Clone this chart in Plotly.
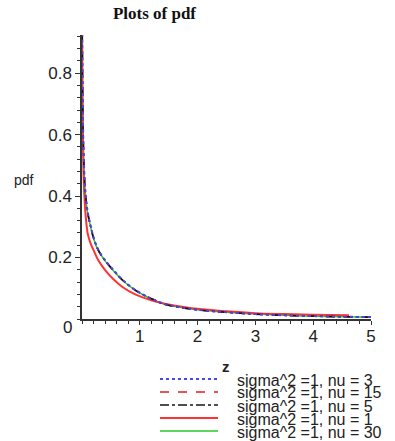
import plotly.graph_objects as go

# Sample points of the density curves (z, pdf)
z = [0.003, 0.006, 0.01, 0.02, 0.03, 0.05, 0.07, 0.1, 0.15, 0.2, 0.28, 0.4,
     0.54, 0.7, 0.92, 1.2, 1.43, 1.7, 2.0, 2.5, 3.0, 3.5, 4.0, 4.5, 5.0]

pdf_nu3 = [0.93, 0.85, 0.75, 0.61, 0.53, 0.44, 0.392, 0.347, 0.303, 0.266, 0.226, 0.191,
           0.160, 0.128, 0.095, 0.066, 0.049, 0.038, 0.030, 0.022, 0.016, 0.012, 0.0095, 0.0075, 0.0062]
pdf_nu15 = [0.93, 0.84, 0.74, 0.60, 0.52, 0.43, 0.386, 0.343, 0.300, 0.263, 0.224, 0.189,
            0.158, 0.127, 0.094, 0.066, 0.048, 0.038, 0.030, 0.022, 0.016, 0.012, 0.0092, 0.0072, 0.0060]
pdf_nu5 = [0.93, 0.84, 0.74, 0.60, 0.52, 0.43, 0.388, 0.345, 0.301, 0.264, 0.225, 0.190,
           0.159, 0.127, 0.094, 0.066, 0.048, 0.038, 0.030, 0.022, 0.016, 0.012, 0.0093, 0.0073, 0.0061]
pdf_nu30 = [0.93, 0.84, 0.74, 0.60, 0.52, 0.43, 0.386, 0.342, 0.299, 0.262, 0.223, 0.189,
            0.158, 0.126, 0.094, 0.065, 0.048, 0.038, 0.030, 0.022, 0.016, 0.012, 0.0092, 0.0072, 0.0060]

z_nu1 = [0.003, 0.006, 0.01, 0.02, 0.03, 0.05, 0.07, 0.1, 0.15, 0.2, 0.28, 0.4,
         0.54, 0.7, 0.92, 1.2, 1.43, 1.7, 2.0, 2.5, 3.0, 3.5, 4.0, 4.62]
pdf_nu1 = [0.93, 0.80, 0.68, 0.53, 0.45, 0.37, 0.322, 0.277, 0.245, 0.224, 0.192, 0.159,
           0.130, 0.104, 0.080, 0.061, 0.050, 0.041, 0.033, 0.025, 0.019, 0.016, 0.014, 0.012]

labels = ["sigma^2 =1, nu = 3", "sigma^2 =1, nu = 15", "sigma^2 =1, nu = 5",
          "sigma^2 =1, nu = 1", "sigma^2 =1, nu = 30"]
x_ticks = [1, 2, 3, 4, 5]
y_ticks = [0.2, 0.4, 0.6, 0.8]

series = [
    (z, pdf_nu3, "rgb(70,70,235)", "dot", 2),
    (z, pdf_nu15, "rgb(220,30,30)", "dash", 1.6),
    (z, pdf_nu5, "rgb(20,20,20)", "dashdot", 1.6),
    (z_nu1, pdf_nu1, "rgb(255,50,50)", "solid", 2),
    (z, pdf_nu30, "rgb(40,200,40)", "solid", 1.5),
]
# stacking order of the curves (last one on top)
draw_order = [4, 1, 3, 2, 0]

W, H = 395, 441
L, R, T, B = 82, 371, 35, 319


def px(x):
    return (x - L) / (R - L)


def py(y):
    return (B - y) / (B - T)


fig = go.Figure()
for i in draw_order:
    xs, ys, col, dash, w = series[i]
    fig.add_trace(go.Scatter(x=xs, y=ys, mode="lines", name=labels[i],
                             line=dict(color=col, dash=dash, width=w, shape="spline"),
                             showlegend=False))

# hand-placed key below the axes
rows = [379, 392, 405, 418, 431]
for (xs, ys, col, dash, w), name, ry in zip(series, labels, rows):
    fig.add_shape(type="line", xref="paper", yref="paper",
                  x0=px(160), x1=px(218), y0=py(ry), y1=py(ry),
                  line=dict(color=col, dash=dash, width=w))
    fig.add_annotation(x=px(235), y=py(ry + 1), xref="paper", yref="paper",
                       text=name, showarrow=False, xanchor="left", yanchor="middle",
                       font=dict(family="Liberation Sans", size=16, color="#222"))

fig.add_annotation(x=px(226), y=py(366), xref="paper", yref="paper", text="<b>z</b>",
                   showarrow=False, xanchor="center", yanchor="middle",
                   font=dict(family="Liberation Sans", size=15, color="#222"))
fig.add_annotation(x=px(24), y=py(180), xref="paper", yref="paper", text="pdf",
                   showarrow=False, xanchor="center", yanchor="middle",
                   font=dict(family="Liberation Sans", size=14, color="#222"))
fig.add_annotation(x=px(67), y=py(327), xref="paper", yref="paper", text="0",
                   showarrow=False, xanchor="center", yanchor="middle",
                   font=dict(family="Liberation Sans", size=17, color="#222"))

fig.update_layout(
    width=W, height=H,
    margin=dict(l=L, r=W - R, t=T, b=H - B),
    paper_bgcolor="white", plot_bgcolor="white",
    title=dict(text="<b>Plots of pdf</b>", x=px(195), xanchor="center", y=1 - 13 / H,
               yanchor="middle", font=dict(family="Liberation Serif", size=17, color="#111")),
    xaxis=dict(range=[0, 5], tickvals=x_ticks, ticktext=[str(v) for v in x_ticks],
               showgrid=False, zeroline=False, showline=True, linecolor="#333", linewidth=1.5,
               ticks="outside", ticklen=4, tickcolor="#333", tickwidth=1.2,
               ticklabelstandoff=-3,
               minor=dict(dtick=0.2, ticks="outside", ticklen=3, tickcolor="#333", showgrid=False),
               tickfont=dict(family="Liberation Sans", size=17, color="#222")),
    yaxis=dict(range=[0, 0.924], tickvals=y_ticks, ticktext=[str(v) for v in y_ticks],
               showgrid=False, zeroline=False, showline=True, linecolor="#333", linewidth=1.5,
               ticks="outside", ticklen=5, tickcolor="#333", tickwidth=1.2,
               minor=dict(tick0=0, dtick=0.04, ticks="outside", ticklen=3, tickcolor="#333",
                          showgrid=False),
               tickfont=dict(family="Liberation Sans", size=17, color="#222")),
)

fig.write_html("out.html")
